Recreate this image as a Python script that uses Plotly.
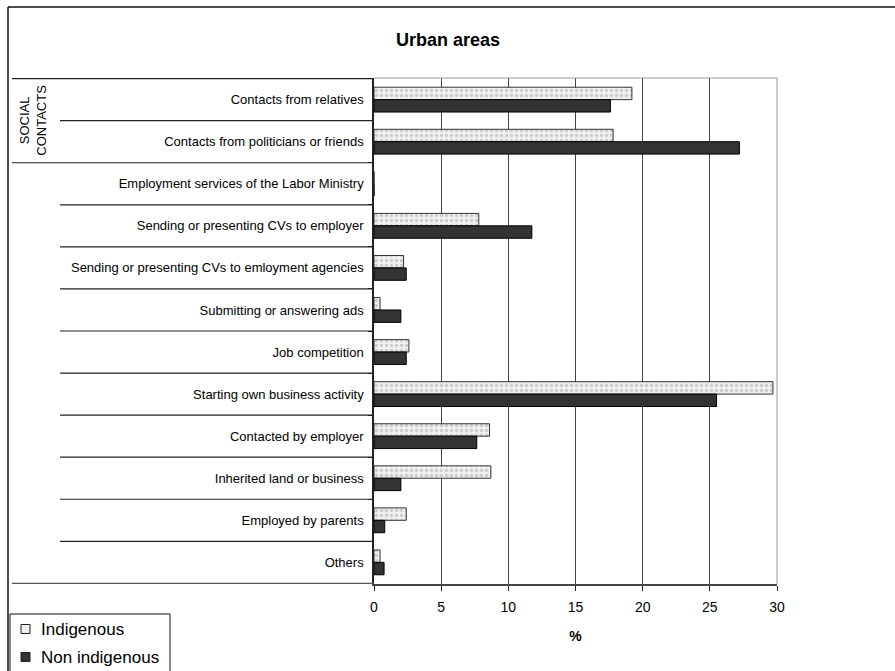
import plotly.graph_objects as go

categories = [
    "Contacts from relatives",
    "Contacts from politicians or friends",
    "Employment services of the Labor Ministry",
    "Sending or presenting CVs to employer",
    "Sending or presenting CVs to emloyment agencies",
    "Submitting or answering ads",
    "Job competition",
    "Starting own business activity",
    "Contacted by employer",
    "Inherited land or business",
    "Employed by parents",
    "Others",
]
indigenous = [19.2, 17.8, 0, 7.8, 2.2, 0.45, 2.6, 29.7, 8.6, 8.7, 2.4, 0.45]
non_indigenous = [17.6, 27.2, 0, 11.75, 2.4, 2.0, 2.4, 25.5, 7.65, 2.0, 0.8, 0.75]
series_names = ["Indigenous", "Non indigenous"]
x_ticks = [0, 5, 10, 15, 20, 25, 30]

W, H = 895, 671
ML, MR, MT, MB = 374, 118, 78, 87
PW = W - ML - MR
PH = H - MT - MB


def px(x):
    return (x - ML) / PW


def py(y):
    return (H - MB - y) / PH


FONT = "Arial, Liberation Sans, sans-serif"
IND_FILL = "#f0f0f0"
NON_FILL = "#333333"

fig = go.Figure()
fig.add_trace(go.Bar(
    y=categories, x=indigenous, orientation="h", name=series_names[0],
    marker=dict(color=IND_FILL, line=dict(color="#333333", width=1),
                pattern=dict(shape=".", fgcolor="#a8a8a8", bgcolor=IND_FILL,
                             size=5, solidity=0.35)),
))
fig.add_trace(go.Bar(
    y=categories, x=non_indigenous, orientation="h", name=series_names[1],
    marker=dict(color=NON_FILL, line=dict(color="#000000", width=1)),
))

shapes = []
n = len(categories)
# row separators in label area
for k in range(n + 1):
    pos = k - 0.5
    start = 12 if k in (0, 2, n) else 60
    shapes.append(dict(type="line", xref="paper", yref="y", x0=px(start), x1=0,
                       y0=pos, y1=pos,
                       line=dict(color="#222222" if k != n else "#555555", width=1.2)))
# plot frame top / right
shapes.append(dict(type="line", xref="paper", yref="paper", x0=0, x1=1, y0=1, y1=1,
                   line=dict(color="#999999", width=1)))
shapes.append(dict(type="line", xref="paper", yref="paper", x0=1, x1=1, y0=0, y1=1,
                   line=dict(color="#999999", width=1)))
# outer chart border: only left and top edges are visible
shapes.append(dict(type="line", xref="paper", yref="paper", x0=px(8), x1=px(8),
                   y0=py(700), y1=py(7), line=dict(color="#111111", width=1.5)))
shapes.append(dict(type="line", xref="paper", yref="paper", x0=px(8), x1=px(895),
                   y0=py(7), y1=py(7), line=dict(color="#111111", width=1.5)))
# legend box
shapes.append(dict(type="rect", xref="paper", yref="paper", x0=px(10), x1=px(170),
                   y0=py(700), y1=py(614), line=dict(color="#111111", width=1)))
# legend swatches
leg_y = [629, 657]
leg_fill = [IND_FILL, NON_FILL]
for yy, fc in zip(leg_y, leg_fill):
    shapes.append(dict(type="rect", xref="paper", yref="paper", x0=px(21), x1=px(30),
                       y0=py(yy + 4.5), y1=py(yy - 4.5), fillcolor=fc,
                       line=dict(color="#222222", width=1)))

annotations = [
    dict(text="<b>Urban areas</b>", xref="paper", yref="paper", x=px(448), y=py(40),
         showarrow=False, font=dict(size=18, color="#000000", family=FONT),
         xanchor="center", yanchor="middle"),
    dict(text="SOCIAL<br>CONTACTS", xref="paper", yref="y", x=px(33), y=0.5,
         textangle=-90, showarrow=False, font=dict(size=13, color="#000000", family=FONT),
         xanchor="center", yanchor="middle"),
]
for yy, name in zip(leg_y, series_names):
    annotations.append(dict(text=name, xref="paper", yref="paper", x=px(39), y=py(yy),
                            showarrow=False, xanchor="left", yanchor="middle",
                            font=dict(size=17, color="#000000", family=FONT)))

fig.update_layout(
    width=W, height=H,
    margin=dict(l=ML, r=MR, t=MT, b=MB),
    paper_bgcolor="white", plot_bgcolor="white",
    barmode="group", bargap=0.41, bargroupgap=0,
    font=dict(family=FONT, size=13, color="#000000"),
    shapes=shapes, annotations=annotations,
    showlegend=False,
    xaxis=dict(range=[0, 30], tickvals=x_ticks, showgrid=True, gridcolor="#444444",
               gridwidth=1, showline=True, linecolor="#444444", linewidth=1.5,
               ticks="outside", ticklen=5, tickcolor="#222222",
               tickfont=dict(size=14, family=FONT), zeroline=False,
               ticklabelstandoff=4,
               title=dict(text="<b>%</b>", font=dict(size=14, family=FONT), standoff=18),
               fixedrange=True, automargin=False),
    yaxis=dict(autorange="reversed", showline=True, linecolor="#222222", linewidth=1.5,
               ticks="outside", ticklen=4, tickcolor="#222222",
               tickson="boundaries",
               tickfont=dict(size=13, family=FONT), ticklabelstandoff=6,
               showgrid=False, zeroline=False, fixedrange=True, automargin=False),
)

fig.write_html("out.html")
